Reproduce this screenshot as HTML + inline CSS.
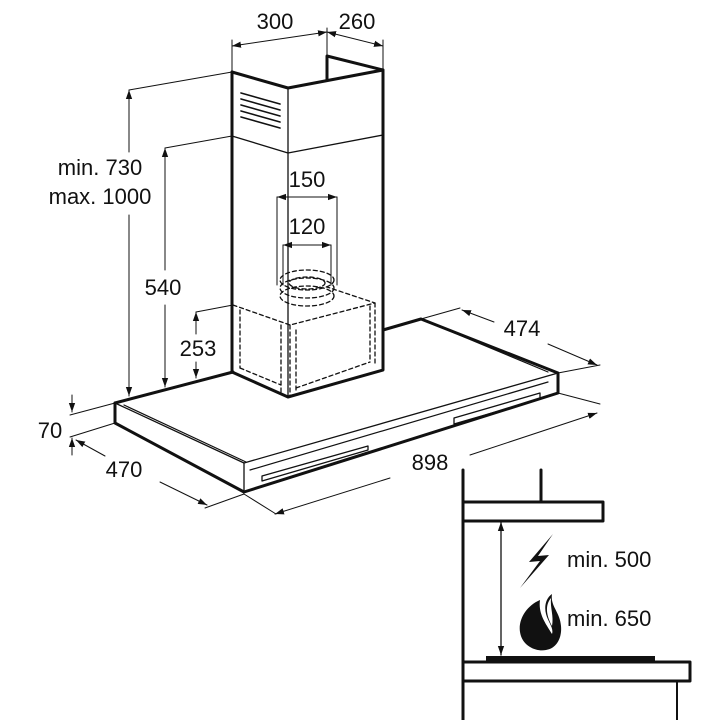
<!DOCTYPE html>
<html><head><meta charset="utf-8"><style>
html,body{margin:0;padding:0;background:#fff;}
svg{display:block;}
text{font-family:"Liberation Sans",sans-serif;font-size:22px;fill:#111;}
</style></head><body>
<svg width="720" height="720" viewBox="0 0 720 720" xmlns="http://www.w3.org/2000/svg">
<defs>
<marker id="a" viewBox="0 0 10 10" refX="10" refY="5" markerWidth="9" markerHeight="9" orient="auto-start-reverse" markerUnits="userSpaceOnUse"><path d="M0,1.5 L10,5 L0,8.5 z" fill="#111"/></marker>
</defs>
<g stroke="#111" fill="none" stroke-linecap="round" stroke-linejoin="round">
<!-- chimney -->
<path d="M232,72 L232,372 L288,397 L383,370 L383,70 L327,56 L327,80" stroke-width="3"/>
<path d="M232,72 L288,88 L383,70" stroke-width="3"/>
<line x1="288" y1="88" x2="288" y2="397" stroke-width="1.3"/>
<path d="M232,136 L288,153 L383,135" stroke-width="1.3"/>
<!-- grille -->
<g stroke-width="1.6">
<path d="M241,93 L280,104 M241,99 L280,110 M241,105 L280,116 M241,111 L280,122 M241,117 L280,128"/>
</g>
<!-- dashed motor box -->
<g stroke-dasharray="4,3" stroke-width="1.3">
<path d="M233,305 L290,325 L375,303 L327,287"/>
<path d="M375,303 L375,366 M290,325 L290,396 M281,325 L281,393 M240,310 L240,368 M296,330 L296,393 M370,306 L370,362"/>
<path d="M240,368 L281,385 M296,388 L370,362"/>
<ellipse cx="307" cy="280" rx="27" ry="10"/>
<ellipse cx="307" cy="288" rx="27" ry="10"/>
<ellipse cx="307" cy="296" rx="27" ry="10"/>
<ellipse cx="307" cy="283" rx="18" ry="6"/>
</g>
<!-- hood body -->
<path d="M115,403 L233,372" stroke-width="3"/>
<path d="M383,330 L421,319 L558,373 L558,393 L244,492 L115,423 L115,403" stroke-width="3"/>
<path d="M115,403 L244,463 L558,373" stroke-width="1.3"/>
<path d="M244,463 L244,492" stroke-width="1.3"/>
<path d="M124,405 L246,462 M428,322 L548,372" stroke-width="1.2"/>
<path d="M250,470 L548,382" stroke-width="1.2"/>
<path d="M262,476 L368,446 L368,450 L262,481 Z M454,418 L540,393 L540,399 L454,424 Z" stroke-width="1.3"/>
<g stroke-width="1">
<line x1="232" y1="72" x2="232" y2="40"/><line x1="327" y1="56" x2="327" y2="28"/><line x1="383" y1="70" x2="383" y2="40"/>
<line x1="232" y1="46" x2="327" y2="32" marker-start="url(#a)" marker-end="url(#a)"/>
<line x1="327" y1="32" x2="383" y2="46" marker-start="url(#a)" marker-end="url(#a)"/>
<line x1="277" y1="197" x2="277" y2="285"/><line x1="337" y1="197" x2="337" y2="285"/>
<line x1="277" y1="197" x2="337" y2="197" marker-start="url(#a)" marker-end="url(#a)"/>
<line x1="283" y1="245" x2="283" y2="285"/><line x1="331" y1="245" x2="331" y2="285"/>
<line x1="283" y1="245" x2="331" y2="245" marker-start="url(#a)" marker-end="url(#a)"/>
<line x1="129" y1="90" x2="232" y2="72"/>
<line x1="129" y1="90" x2="129" y2="152" marker-start="url(#a)"/>
<line x1="129" y1="215" x2="129" y2="396" marker-end="url(#a)"/>
<line x1="165" y1="148" x2="232" y2="136"/>
<line x1="165" y1="148" x2="165" y2="270" marker-start="url(#a)"/>
<line x1="165" y1="305" x2="165" y2="387" marker-end="url(#a)"/>
<line x1="196" y1="312" x2="233" y2="305"/>
<line x1="196" y1="312" x2="196" y2="334" marker-start="url(#a)"/>
<line x1="196" y1="362" x2="196" y2="378" marker-end="url(#a)"/>
<line x1="70" y1="415" x2="115" y2="403"/><line x1="70" y1="437" x2="115" y2="423"/>
<line x1="72" y1="395" x2="72" y2="412" marker-end="url(#a)"/>
<line x1="72" y1="455" x2="72" y2="438" marker-end="url(#a)"/>
<line x1="76" y1="440" x2="105" y2="456" marker-start="url(#a)"/>
<line x1="160" y1="482" x2="207" y2="505" marker-end="url(#a)"/>
<line x1="205" y1="508" x2="244" y2="494"/>
<line x1="244" y1="494" x2="276" y2="514"/><line x1="558" y1="393" x2="600" y2="404"/>
<line x1="275" y1="514" x2="390" y2="478" marker-start="url(#a)"/>
<line x1="470" y1="455" x2="597" y2="413" marker-end="url(#a)"/>
<line x1="421" y1="319" x2="460" y2="308"/><line x1="558" y1="373" x2="600" y2="365"/>
<line x1="462" y1="310" x2="494" y2="322" marker-start="url(#a)"/>
<line x1="548" y1="344" x2="597" y2="365" marker-end="url(#a)"/>
</g>
<g stroke-width="3">
<line x1="463" y1="470" x2="463" y2="720"/>
<line x1="541" y1="470" x2="541" y2="502"/>
<rect x="463" y="502" width="140" height="19"/>
<rect x="463" y="662" width="227" height="19"/>
<line x1="677" y1="681" x2="677" y2="720" stroke-width="2"/>
</g>
<rect x="486" y="656" width="169" height="6" fill="#111" stroke="none"/>
<line x1="501" y1="522" x2="501" y2="655" stroke-width="1.3" marker-start="url(#a)" marker-end="url(#a)"/>
</g>
<path d="M553,534 L529,562 L540,561 L520,588 L549,555 L538,556 Z" fill="#111"/>
<path d="M540,600 C526,606 518,620 520,632 C522,646 536,652 546,650 C558,648 562,636 561,626 C560,612 550,606 552,594 C546,598 544,606 546,614 C548,622 554,628 552,634 C546,624 538,614 540,600 Z" fill="#111"/>
<path d="M551,598 C545,605 546,615 552,626 C554,616 550,608 551,598 Z" fill="#fff"/>
<text x="275" y="29" text-anchor="middle">300</text>
<text x="357" y="29" text-anchor="middle">260</text>
<text x="307" y="187" text-anchor="middle">150</text>
<text x="307" y="234" text-anchor="middle">120</text>
<text x="100" y="175" text-anchor="middle">min. 730</text>
<text x="100" y="204" text-anchor="middle">max. 1000</text>
<text x="163" y="295" text-anchor="middle">540</text>
<text x="198" y="356" text-anchor="middle">253</text>
<text x="50" y="438" text-anchor="middle">70</text>
<text x="124" y="477" text-anchor="middle">470</text>
<text x="430" y="470" text-anchor="middle">898</text>
<text x="522" y="336" text-anchor="middle">474</text>
<text x="567" y="567">min. 500</text>
<text x="567" y="626">min. 650</text>
</svg>
</body></html>
